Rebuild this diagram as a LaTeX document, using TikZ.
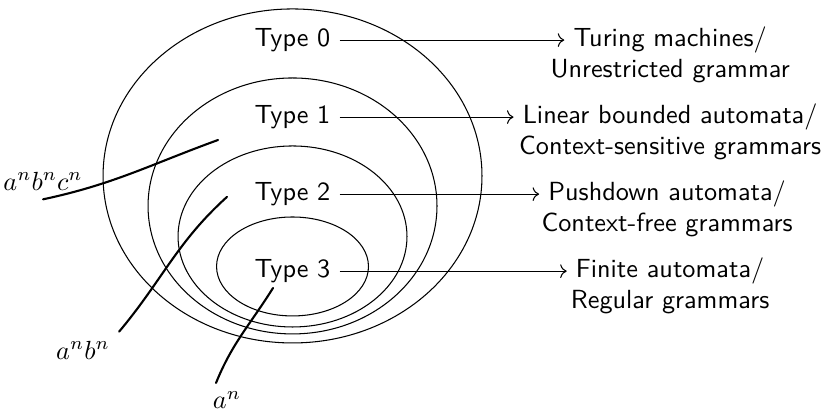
\documentclass[tikz,border=0pt]{standalone}
\usepackage{amsmath}
\usepackage{tikz}
\usetikzlibrary{positioning, arrows.meta, calc}

\begin{document}
\begin{tikzpicture}[
    >=To,
    node distance=0.47cm,
    lang/.style={font=\sffamily},
    desc/.style={font=\sffamily, anchor=base},
    region/.style={draw, thin},
    hand/.style={line width=0.8pt, line cap=round},
    hw/.style={font=\normalsize}
]

\useasboundingbox (-3.92,-3.216) rectangle (7.149,2.358);

%---------------- Nested language classes ----------------
\draw[region] (0,0) ellipse [x radius=2.539cm, y radius=2.238cm];
\draw[region] (0,-0.402) ellipse [x radius=1.936cm, y radius=1.715cm];
\draw[region] (0,-0.811) ellipse [x radius=1.534cm, y radius=1.213cm];
\draw[region] (0,-1.213) ellipse [x radius=1.018cm, y radius=0.663cm];

%---------------- Type labels ----------------
\node[lang] (t0) at (0,1.821) {Type 0};
\node[lang, below=of t0] (t1) {Type 1};
\node[lang, below=of t1] (t2) {Type 2};
\node[lang, below=of t2] (t3) {Type 3};

%---------------- Machines / grammars ----------------
\node[desc] (tm) at ([xshift=5.06cm]t0.base) {Turing machines/};
\node[desc] (ug) at ([yshift=-12pt]tm.base) {Unrestricted grammar};

\node[desc] (lba) at ([xshift=5.06cm]t1.base) {Linear bounded automata/};
\node[desc] (csg) at ([yshift=-12pt]lba.base) {Context-sensitive grammars};

\node[desc] (pda) at ([xshift=5.02cm]t2.base) {Pushdown automata/};
\node[desc] (cfg) at ([yshift=-12pt]pda.base) {Context-free grammars};

\node[desc] (fa) at ([xshift=5.06cm]t3.base) {Finite automata/};
\node[desc] (rg) at ([yshift=-12pt]fa.base) {Regular grammars};

\draw[->] (t0) -- (tm.west |- t0);
\draw[->] (t1) -- (lba.west |- t1);
\draw[->] (t2) -- (pda.west |- t2);
\draw[->] (t3) -- (fa.west |- t3);

%---------------- Handwritten examples ----------------
\node[hw] (abc) at (-3.343,-0.067) {$a^nb^nc^n$};
\node[hw] (ab) at (-2.807,-2.332) {$a^nb^n$};
\node[hw] (an) at (-0.878,-3.002) {$a^n$};

\coordinate (abcend) at (-0.998,0.482);
\coordinate (abend) at (-0.878,-0.281);
\coordinate (anstart) at (-1.025,-2.774);
\coordinate (anend) at (-0.261,-1.501);

\draw[hand] (abc.south) to[out=12, in=200] (abcend);
\draw[hand] (ab.north east) to[out=50, in=222] (abend);
\draw[hand] (anstart) to[out=68, in=238] (anend);

\end{tikzpicture}
\end{document}
